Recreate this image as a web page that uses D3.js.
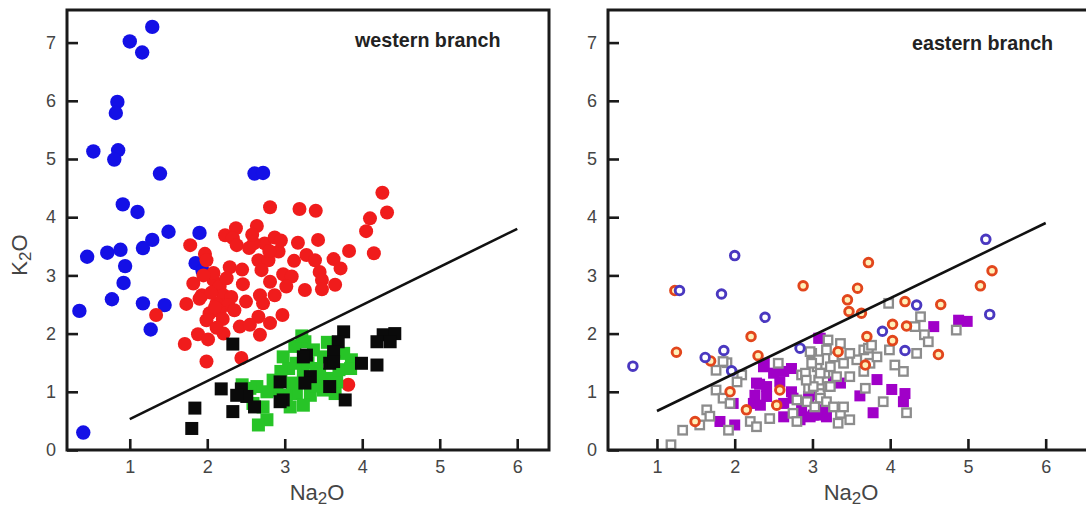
<!DOCTYPE html>
<html>
<head>
<meta charset="utf-8">
<script src="https://cdn.jsdelivr.net/npm/d3@7"></script>
<style>
  html, body { margin: 0; padding: 0; background: #fff; overflow: hidden; }
  text { font-family: "Liberation Sans", Arial, Helvetica, sans-serif; }
</style>
</head>
<body>
<svg id="chart" width="1086" height="508"></svg>
<script>
// Axis ticks
const xTicks = [1, 2, 3, 4, 5, 6];
const yTicks = [0, 1, 2, 3, 4, 5, 6, 7];

// Western branch samples: [Na2O, K2O] (wt%)
const westernBlue = [
  [1.29,7.27],[1.00,7.02],[1.16,6.83],[0.84,5.98],[0.82,5.79],[0.53,5.13],[0.85,5.15],
  [0.80,4.99],[1.39,4.75],[2.61,4.75],[2.72,4.76],[0.91,4.22],[1.10,4.09],[1.50,3.75],
  [1.90,3.73],[1.29,3.61],[1.17,3.47],[0.45,3.32],[0.71,3.39],[0.88,3.44],[0.94,3.16],
  [0.92,2.87],[1.85,3.21],[1.94,3.08],[0.35,2.39],[0.77,2.59],[1.17,2.52],[1.45,2.49],
  [1.27,2.07],[0.40,0.30]
];
const westernRed = [
  [4.26,4.42],[4.32,4.08],[4.10,3.98],[4.05,3.76],[2.81,4.17],[3.19,4.14],[3.40,4.11],
  [2.64,3.85],[2.37,3.81],[2.23,3.69],[2.33,3.64],[1.78,3.52],[2.38,3.52],[2.54,3.47],
  [2.74,3.55],[2.87,3.65],[2.92,3.41],[3.17,3.56],[3.43,3.61],[3.83,3.42],[4.15,3.38],
  [1.97,3.37],[2.66,3.26],[2.79,3.26],[3.28,3.35],[3.39,3.26],[3.63,3.28],[3.72,3.12],
  [2.29,3.14],[2.70,3.09],[1.99,3.26],[2.98,3.02],[3.09,2.98],[3.45,3.06],[3.48,2.92],
  [1.82,2.86],[2.08,2.92],[2.16,2.81],[2.46,2.85],[2.81,2.89],[3.02,2.81],[3.26,2.75],
  [3.48,2.76],[3.65,2.84],[1.93,2.66],[2.21,2.66],[2.31,2.63],[2.68,2.66],[2.87,2.66],
  [1.73,2.51],[2.12,2.52],[2.27,2.49],[2.72,2.52],[2.03,2.35],[2.16,2.38],[1.99,2.23],
  [2.66,2.29],[2.97,2.32],[2.81,2.18],[1.88,1.99],[2.01,1.90],[2.21,2.00],[2.42,2.12],
  [2.55,2.15],[2.68,1.98],[1.71,1.82],[1.99,1.52],[2.44,1.58],[2.08,3.04],[1.34,2.32],
  [3.82,1.12],[2.05,2.70],[2.25,2.95],[2.10,2.45],[1.90,2.60],[2.45,3.10],[2.60,3.55],
  [2.95,3.60],[2.20,2.25],[2.35,2.40],[1.95,3.00],[2.12,2.10],[2.50,2.55],[3.12,3.25],
  [2.58,3.70],[2.80,3.42]
];
const westernGreen = [
  [3.26,1.86],[2.98,1.60],[3.05,1.40],[3.15,1.49],[3.24,1.32],[3.41,1.40],[3.50,1.60],
  [3.54,1.23],[3.67,1.17],[3.86,1.55],[3.65,0.97],[3.50,1.03],[3.33,0.94],[3.15,0.97],
  [3.24,0.77],[3.02,0.94],[2.90,1.03],[2.77,1.00],[2.64,1.09],[2.55,1.06],[2.59,0.80],
  [2.72,0.74],[2.77,0.52],[2.66,0.43],[3.07,0.74],[3.37,1.72],[3.13,1.78],[3.76,1.66],
  [3.22,1.96],[2.45,1.12],[2.85,1.20],[3.45,1.30],[3.70,1.38],[3.60,1.55],[3.30,1.50],
  [3.10,1.15],[3.40,1.10],[2.95,1.35],[3.55,1.85],[3.85,1.40]
];
const westernBlack = [
  [2.33,1.82],[2.18,1.05],[2.44,1.05],[2.51,0.92],[2.61,0.74],[2.33,0.66],[1.84,0.72],
  [1.80,0.37],[3.76,2.03],[3.69,1.86],[3.63,1.69],[4.27,1.98],[4.42,2.00],[4.36,1.86],
  [4.19,1.86],[4.19,1.46],[3.99,1.49],[3.78,0.86],[3.28,1.63],[3.33,1.26],[2.94,1.17],
  [2.98,0.86],[3.58,1.49],[2.38,0.94],[3.63,1.52],[3.24,1.60],[3.58,1.09],[3.26,1.15],
  [2.94,0.83]
];

// Eastern branch samples: [Na2O, K2O] (wt%)
const easternBlue = [
  [2.00,3.34],[1.29,2.74],[1.83,2.68],[2.39,2.28],[1.86,1.71],[1.62,1.59],[1.96,1.36],
  [2.84,1.75],[0.69,1.44],[5.23,3.62],[5.28,2.33],[4.34,2.49],[3.90,2.04],[4.19,1.71]
];
const easternOrange = [
  [1.23,2.74],[2.88,2.82],[2.21,1.95],[1.25,1.68],[1.69,1.53],[2.30,1.62],[1.94,1.00],
  [1.49,0.49],[2.15,0.69],[2.58,1.03],[2.54,0.77],[3.72,3.22],[3.58,2.78],[3.45,2.58],
  [3.47,2.38],[3.63,2.35],[4.19,2.55],[4.65,2.50],[5.31,3.08],[5.16,2.82],[4.03,2.16],
  [4.21,2.13],[4.03,1.88],[4.62,1.64],[3.70,1.95],[3.33,1.69],[3.68,1.46]
];
const easternPurple = [
  [4.88,2.23],[4.99,2.21],[4.56,2.12],[3.08,1.92],[3.83,1.21],[4.02,1.04],[4.19,0.97],
  [4.17,0.83],[3.61,0.93],[3.78,0.64],[3.36,1.15],[3.27,1.17],[3.01,0.95],[2.97,0.57],
  [3.10,0.60],[3.18,0.57],[2.86,0.69],[3.10,1.92],[2.37,1.43],[2.50,1.32],[2.63,1.35],
  [2.73,1.40],[2.28,1.15],[2.41,1.09],[2.58,1.17],[2.26,0.94],[2.41,0.92],[2.73,1.00],
  [2.24,0.80],[2.33,0.77],[2.63,0.80],[2.75,0.89],[2.95,0.92],[1.98,0.80],[1.81,0.49],
  [2.00,0.43],[2.63,0.57],[2.84,0.52],[3.01,0.60],[3.14,0.69],[2.38,1.49],[2.32,1.13]
];
const easternGray = [
  [2.99,1.66],[2.56,1.49],[1.90,1.50],[1.76,1.37],[2.09,1.29],[2.03,1.17],[1.76,1.03],
  [1.85,0.89],[1.94,0.80],[1.64,0.69],[1.68,0.58],[1.55,0.43],[1.33,0.34],[1.92,0.34],
  [2.20,0.49],[2.28,0.40],[2.45,0.54],[2.75,0.63],[2.80,0.49],[3.06,1.43],[3.16,1.32],
  [3.08,1.20],[2.95,1.06],[3.10,0.97],[3.20,1.09],[2.86,1.29],[2.80,0.86],[1.18,0.09],
  [1.85,1.52],[2.97,1.69],[3.20,1.89],[3.98,2.52],[4.39,2.29],[4.32,2.12],[4.44,1.98],
  [4.49,1.86],[4.34,1.66],[4.85,2.06],[3.99,1.72],[4.06,1.46],[4.17,1.35],[3.91,0.83],
  [4.21,0.64],[3.48,0.52],[3.36,0.63],[3.40,0.74],[3.33,0.46],[3.68,1.06],[3.48,1.26],
  [3.66,1.35],[3.74,1.49],[3.57,1.55],[3.48,1.66],[3.66,1.72],[3.72,1.75],[3.83,1.60],
  [3.76,1.80],[3.27,1.60],[3.18,1.72],[3.36,1.83],[3.40,1.49],[3.23,1.43],[3.08,1.55],
  [2.99,1.49],[2.91,1.32],[3.10,1.32],[3.31,1.26],[3.23,1.09],[3.01,1.09],[2.92,1.20],
  [3.10,0.89],[3.18,0.83],[3.27,0.74],[2.93,0.83],[3.03,0.74]
];

// Discrimination lines
const westernDivide = [[1, 0.53], [6, 3.80]];
const easternDivide = [[1, 0.67], [6, 3.90]];

const svg = d3.select("#chart");
const plotTop = 10, plotBottom = 450;
const yDomain = [0, 7.56];

function drawPanel(cfg) {
  const g = svg.append("g");
  const x = d3.scaleLinear().domain(cfg.xDomain).range([cfg.left, cfg.right]);
  const y = d3.scaleLinear().domain(yDomain).range([plotBottom, plotTop]);

  cfg.layers(g, x, y);

  // divide line
  g.append("path")
    .datum(cfg.divide)
    .attr("d", d3.line().x(d => x(d[0])).y(d => y(d[1])))
    .attr("fill", "none")
    .attr("stroke", "#111")
    .attr("stroke-width", 2.6);

  // frame
  g.append("rect")
    .attr("x", cfg.left).attr("y", plotTop)
    .attr("width", cfg.right - cfg.left).attr("height", plotBottom - plotTop)
    .attr("fill", "none").attr("stroke", "#1a1a1a").attr("stroke-width", 3);

  const xAxis = g.append("g")
    .attr("transform", `translate(0,${plotBottom})`)
    .call(d3.axisBottom(x).tickValues(xTicks).tickFormat(d3.format("d"))
      .tickSizeInner(-11).tickSizeOuter(0).tickPadding(10));
  const yAxis = g.append("g")
    .attr("transform", `translate(${cfg.left},0)`)
    .call(d3.axisLeft(y).tickValues(yTicks).tickFormat(d3.format("d"))
      .tickSizeInner(-11).tickSizeOuter(0).tickPadding(11));
  [xAxis, yAxis].forEach(a => {
    a.select(".domain").remove();
    a.selectAll(".tick line").attr("stroke", "#1a1a1a").attr("stroke-width", 2.6);
    a.selectAll(".tick text").attr("fill", "#454545").attr("font-size", 18)
      .attr("font-family", "'Liberation Sans', Arial, sans-serif");
  });

  // x title Na2O
  const xt = g.append("text")
    .attr("x", cfg.xTitleX).attr("y", 500)
    .attr("text-anchor", "middle")
    .attr("font-size", 22).attr("fill", "#454545");
  xt.append("tspan").text("Na");
  xt.append("tspan").attr("font-size", 17).attr("dy", 4).text("2");
  xt.append("tspan").attr("dy", -4).text("O");

  // branch label
  g.append("text")
    .attr("x", cfg.labelX).attr("y", cfg.labelY)
    .attr("font-size", 19.7).attr("font-weight", "bold").attr("fill", "#222")
    .text(cfg.label);
}

function circles(g, data, x, y, r, fill, stroke, sw) {
  g.append("g").selectAll("circle").data(data).join("circle")
    .attr("cx", d => x(d[0])).attr("cy", d => y(d[1])).attr("r", r)
    .attr("fill", fill).attr("stroke", stroke).attr("stroke-width", sw);
}
function squares(g, data, x, y, s, fill, stroke, sw) {
  g.append("g").selectAll("rect").data(data).join("rect")
    .attr("x", d => x(d[0]) - s / 2).attr("y", d => y(d[1]) - s / 2)
    .attr("width", s).attr("height", s)
    .attr("fill", fill).attr("stroke", stroke).attr("stroke-width", sw);
}

drawPanel({
  left: 67, right: 549, xDomain: [0.19, 6.41],
  divide: westernDivide, xTitleX: 317,
  label: "western branch", labelX: 355, labelY: 47,
  layers: (g, x, y) => {
    circles(g, westernBlue, x, y, 7.2, "#1410e6", "none", 0);
    circles(g, westernRed, x, y, 7, "#f01c1c", "none", 0);
    squares(g, westernGreen, x, y, 13, "#27c427", "none", 0);
    squares(g, westernBlack, x, y, 13, "#0a0a0a", "none", 0);
  }
});

drawPanel({
  left: 608, right: 1090, xDomain: [0.37, 6.57],
  divide: easternDivide, xTitleX: 851,
  label: "eastern branch", labelX: 912, labelY: 50,
  layers: (g, x, y) => {
    squares(g, easternPurple, x, y, 11, "#a000c8", "none", 0);
    squares(g, easternGray, x, y, 8.5, "#ffffff", "#8c8c8c", 2.3);
    circles(g, easternOrange, x, y, 4.3, "#fff0b8", "#e2461c", 2.9);
    circles(g, easternBlue, x, y, 4.3, "#ffffff", "#4a38c0", 2.9);
  }
});

// y title K2O
const yt = svg.append("text")
  .attr("transform", "translate(27,255) rotate(-90)")
  .attr("text-anchor", "middle")
  .attr("font-size", 22).attr("fill", "#454545");
yt.append("tspan").text("K");
yt.append("tspan").attr("font-size", 17).attr("dy", 4).text("2");
yt.append("tspan").attr("dy", -4).text("O");
</script>
</body>
</html>
